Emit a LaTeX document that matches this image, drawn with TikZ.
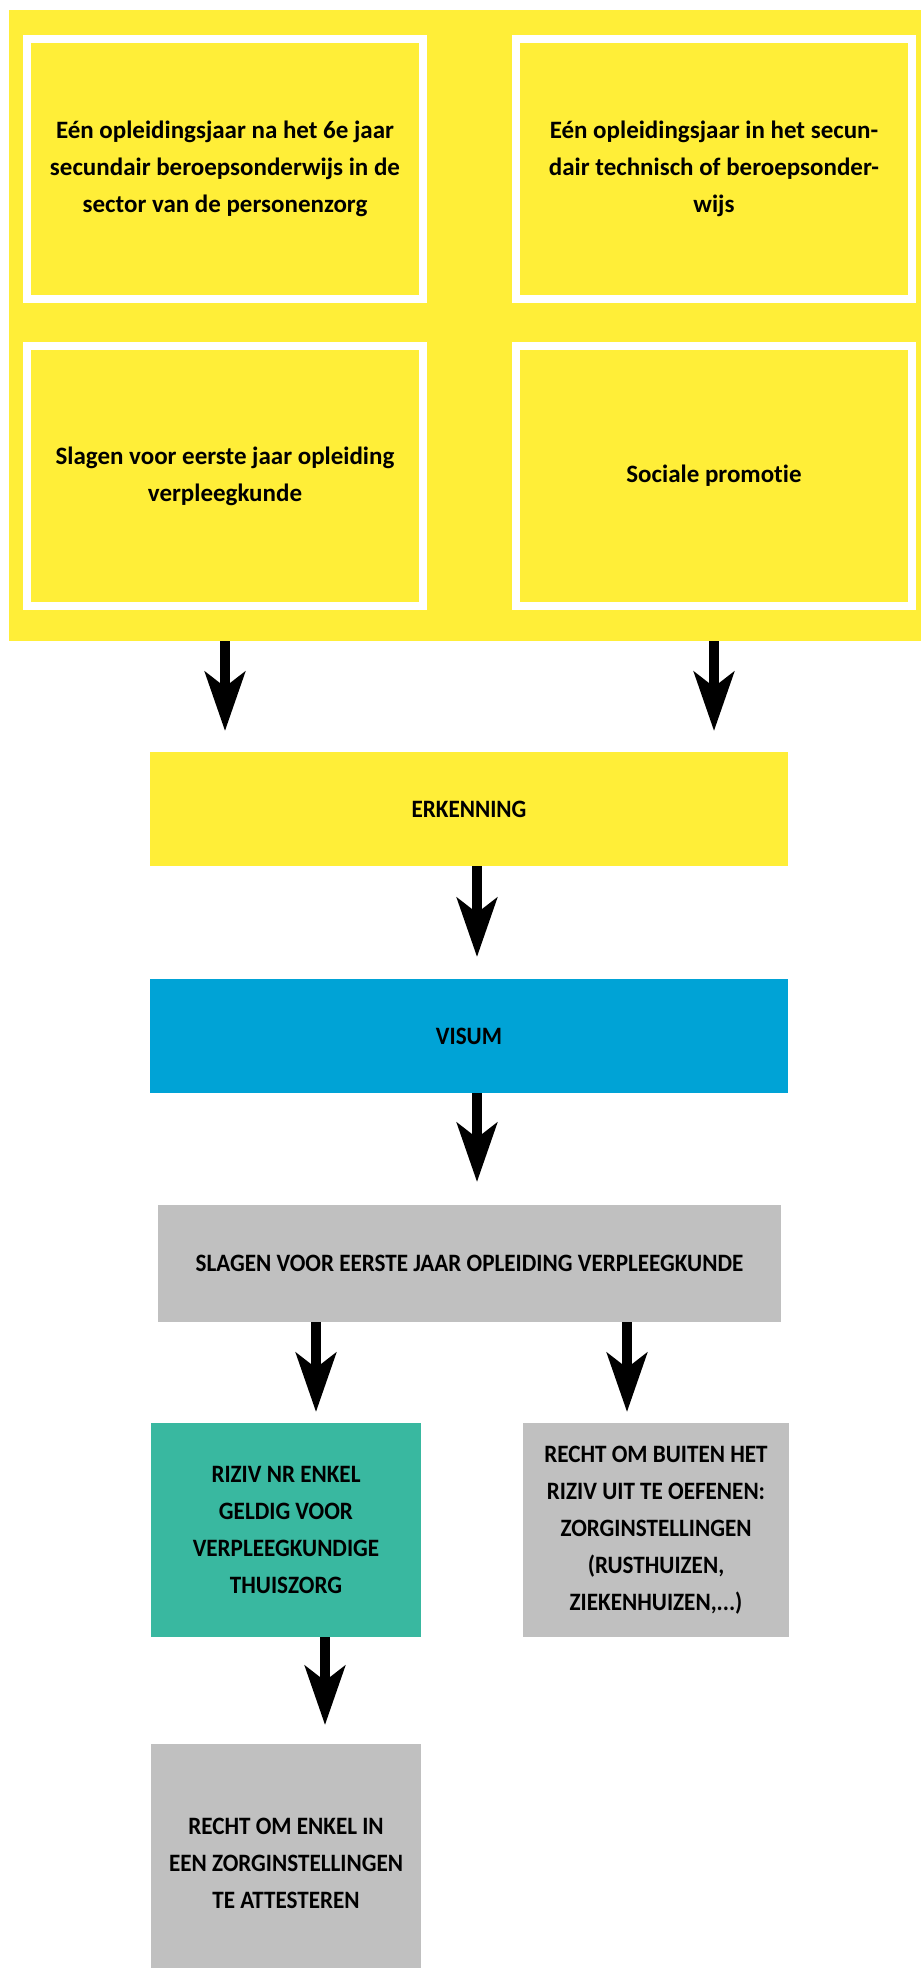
\documentclass[tikz,border=0pt]{standalone}
\usepackage{fontspec}
\setmainfont[Ligatures=NoCommon]{Carlito}
\newfontfamily\hoofdletters[Ligatures=NoCommon, FakeStretch=0.925]{Carlito}
\usetikzlibrary{arrows.meta,calc,positioning}
\definecolor{geel}{RGB}{255,238,56}
\definecolor{blauw}{RGB}{0,163,214}
\definecolor{groen}{RGB}{57,184,160}
\definecolor{grijs}{RGB}{192,192,192}
\tikzset{
    frame/.style={rectangle, draw=white, line width=4pt, fill=geel, minimum width=198pt, minimum height=130pt, align=center, inner sep=0pt, outer sep=0pt},
    bar/.style={rectangle, minimum width=319pt, minimum height=57pt, align=center, inner sep=0pt, outer sep=0pt, font=\hoofdletters\bfseries\fontsize{12.5}{18.5}\selectfont},
    tile/.style={rectangle, fill=grijs, minimum width=135pt, minimum height=107pt, align=center, inner sep=0pt, outer sep=0pt, font=\hoofdletters\bfseries\fontsize{12.5}{18.5}\selectfont},
    arrow/.style={-{Stealth[length=29.5pt, width=20pt, inset=7.5pt]}, line width=5pt}
}

\begin{document}
\begin{tikzpicture}[
    x=0.5pt, y=-0.5pt,
    font=\bfseries\fontsize{12.5}{18.5}\selectfont,
    panel/.style={rectangle, fill=geel, minimum width=456pt, minimum height=315.5pt, inner sep=0pt, outer sep=0pt}
]
\useasboundingbox (0,0) rectangle (921,1968);

% Toegang
\node[panel] (bg) at (465,325.5) {};
\node[frame] (vak1) at (225,169) {Eén opleidingsjaar na het 6e jaar\\secundair beroepsonderwijs in de\\sector van de personenzorg};
\node[frame] (vak2) at (714,169) {Eén opleidingsjaar in het secun-\\dair technisch of beroepsonder-\\wijs};
\node[frame] (vak3) at (225,476) {Slagen voor eerste jaar opleiding\\verpleegkunde};
\node[frame] (vak4) at (714,476) {Sociale promotie};

% Stappen
\node[bar, fill=geel] (erk) at (469,809) {ERKENNING};
\node[bar, fill=blauw] (visum) at (469,1036) {VISUM};
\node[bar, fill=grijs, minimum width=311.5pt, minimum height=58.5pt] (slagen) at (469.5,1263.5) {SLAGEN VOOR EERSTE JAAR OPLEIDING VERPLEEGKUNDE};
\node[tile, fill=groen] (riziv) at (286,1530) {RIZIV NR ENKEL\\GELDIG VOOR\\VERPLEEGKUNDIGE\\THUISZORG};
\node[tile, minimum width=133pt] (buiten) at (656,1530) {RECHT OM BUITEN HET\\RIZIV UIT TE OEFENEN:\\ZORGINSTELLINGEN\\(RUSTHUIZEN,\\ZIEKENHUIZEN,...)};
\node[tile, minimum height=119pt] (attest) at (286,1863) {RECHT OM ENKEL IN\\EEN ZORGINSTELLINGEN\\TE ATTESTEREN};

% Arrows
\draw[arrow, shorten >=10.5pt] (bg.south -| vak3.south) -- (erk.north -| vak3.south);
\draw[arrow, shorten >=10.5pt] (bg.south -| vak4.south) -- (erk.north -| vak4.south);
\draw[arrow, shorten >=11pt] ([xshift=4pt]erk.south) -- ([xshift=4pt]visum.north);
\draw[arrow, shorten >=11.5pt] ([xshift=4pt]visum.south) -- ([xshift=4pt]visum.south |- slagen.north);
\draw[arrow, shorten >=5.5pt] ([xshift=15pt]riziv.north |- slagen.south) -- ([xshift=15pt]riziv.north);
\draw[arrow, shorten >=5.5pt] ([xshift=-14.5pt]buiten.north |- slagen.south) -- ([xshift=-14.5pt]buiten.north);
\draw[arrow, shorten >=9.5pt] ([xshift=19.5pt]riziv.south) -- ([xshift=19.5pt]attest.north);

\end{tikzpicture}
\end{document}
